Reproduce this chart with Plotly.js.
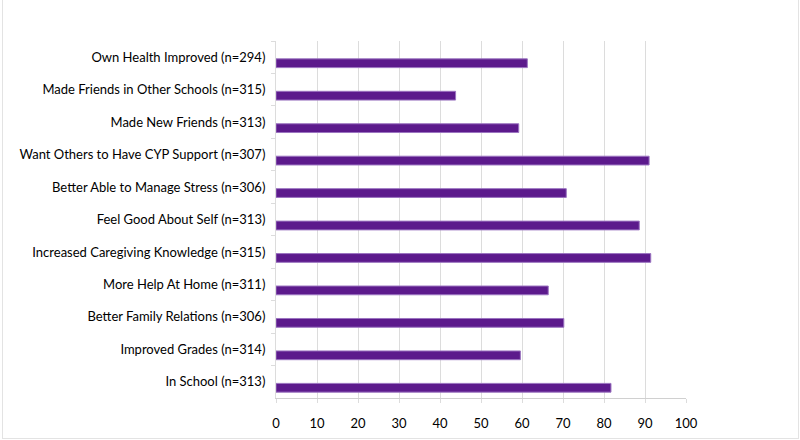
<!DOCTYPE html>
<html>
<head>
<meta charset="utf-8">
<script src="https://cdn.plot.ly/plotly-3.0.1.min.js"></script>
<style>
  body { margin: 0; background: #fff; }
  #frame { position: absolute; left: 2px; top: 0; width: 795px; height: 438px;
           border-left: 1px solid #e3e3e3; border-right: 1px solid #e3e3e3; border-bottom: 1px solid #e3e3e3; }
  #plot { position: absolute; left: 0; top: 0; width: 800px; height: 440px; }
</style>
</head>
<body>
<div id="frame"></div>
<div id="plot"></div>
<script>
// categories, top to bottom
var outcomes = [
    "Own Health Improved (n=294)",
    "Made Friends in Other Schools (n=315)",
    "Made New Friends (n=313)",
    "Want Others to Have CYP Support (n=307)",
    "Better Able to Manage Stress (n=306)",
    "Feel Good About Self (n=313)",
    "Increased Caregiving Knowledge (n=315)",
    "More Help At Home (n=311)",
    "Better Family Relations (n=306)",
    "Improved Grades (n=314)",
    "In School (n=313)"
];

// percent values
var percents = [61.3, 43.8, 59.2, 91.0, 70.8, 88.6, 91.4, 66.4, 70.2, 59.6, 81.7];

var xTicks = [0, 10, 20, 30, 40, 50, 60, 70, 80, 90, 100];

var trace1 = {
    x: percents,
    y: outcomes,
    type: "bar",
    orientation: "h",
    width: 0.27,
    offset: 0.05,
    marker: { color: "#5c1a8c", line: { color: "#9b74c0", width: 1 } },
    hoverinfo: "x+y"
};

var layout = {
    width: 800,
    height: 440,
    margin: { l: 276, r: 114, t: 41, b: 42 },
    paper_bgcolor: "rgba(0,0,0,0)",
    plot_bgcolor: "rgba(0,0,0,0)",
    showlegend: false,
    font: { family: "Lato, 'Open Sans', sans-serif", size: 13, color: "#000" },
    xaxis: {
        range: [0, 100],
        tickvals: xTicks,
        ticktext: xTicks.map(String),
        showgrid: true,
        gridcolor: "#dcdcdc",
        gridwidth: 1,
        zeroline: false,
        showline: true,
        linecolor: "#d0d0d0",
        ticks: "outside",
        ticklen: 4,
        tickcolor: "#dcdcdc",
        ticklabelstandoff: 9,
        tickfont: { size: 13 },
        fixedrange: true
    },
    yaxis: {
        autorange: "reversed",
        type: "category",
        showgrid: false,
        showline: true,
        linecolor: "#dcdcdc",
        ticks: "outside",
        tickson: "boundaries",
        ticklen: 4,
        tickcolor: "#dcdcdc",
        ticklabelstandoff: 7,
        tickfont: { size: 13 },
        fixedrange: true
    }
};

Plotly.newPlot("plot", [trace1], layout, { displayModeBar: false, staticPlot: true });
</script>
</body>
</html>
